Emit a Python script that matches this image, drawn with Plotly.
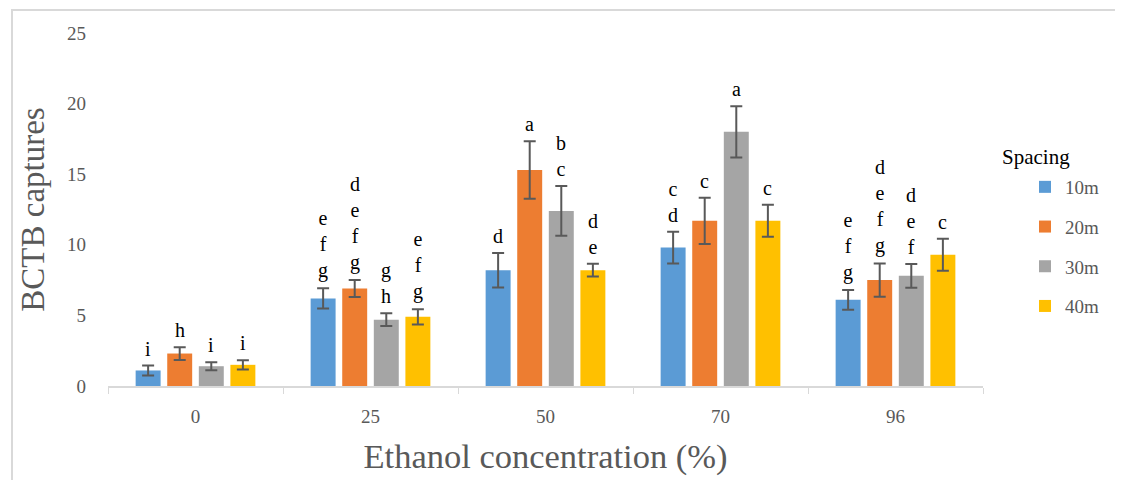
import plotly.graph_objects as go

categories = ["0", "25", "50", "70", "96"]
series_names = ["10m", "20m", "30m", "40m"]
colors = ["#5B9BD5", "#ED7D31", "#A5A5A5", "#FFC000"]

vals_10m = [1.1, 6.2, 8.2, 9.8, 6.1]
vals_20m = [2.3, 6.9, 15.3, 11.7, 7.5]
vals_30m = [1.4, 4.7, 12.4, 18.0, 7.8]
vals_40m = [1.5, 4.9, 8.2, 11.7, 9.3]

err_10m = [0.35, 0.72, 1.22, 1.12, 0.70]
err_20m = [0.45, 0.60, 2.04, 1.64, 1.18]
err_30m = [0.28, 0.45, 1.76, 1.82, 0.84]
err_40m = [0.33, 0.54, 0.45, 1.13, 1.13]

lab_10m = ["i", "e<br>f<br>g", "d", "c<br>d", "e<br>f<br>g"]
lab_20m = ["h", "d<br>e<br>f<br>g", "a", "c", "d<br>e<br>f<br>g"]
lab_30m = ["i", "g<br>h", "b<br>c", "a", "d<br>e<br>f"]
lab_40m = ["i", "e<br>f<br>g", "d<br>e", "c", "c"]

values = [vals_10m, vals_20m, vals_30m, vals_40m]
errors = [err_10m, err_20m, err_30m, err_40m]
labels = [lab_10m, lab_20m, lab_30m, lab_40m]

FONT = "Liberation Serif"
GRAY = "#595959"

W, H = 1123, 480
OFF = 8  # page body margin
ML, MR, MT, MB = 100, 148, 25, 102
plot_w = W - ML - MR
plot_h = H - MT - MB
BARGAP = 0.278
BARGROUPGAP = 0.21
cat_px = plot_w / len(categories)
pitch = (1 - BARGAP) * cat_px / len(series_names)


def px(xs):
    return (xs - OFF - ML) / plot_w


def py(ys):
    return (H - MB - (ys - OFF)) / plot_h


fig = go.Figure()
for i, name in enumerate(series_names):
    fig.add_trace(go.Bar(
        name=name, x=categories, y=values[i],
        marker=dict(color=colors[i], line=dict(width=0)),
        error_y=dict(type="data", array=errors[i], color=GRAY, thickness=2, width=6),
        legendgroup=name,
    ))

annotations = []
for i, name in enumerate(series_names):
    shift = (i - (len(series_names) - 1) / 2) * pitch
    for j, c in enumerate(categories):
        annotations.append(dict(
            x=j, y=values[i][j] + errors[i][j], xref="x", yref="y",
            text=labels[i][j], showarrow=False, xshift=shift, yshift=4,
            yanchor="bottom", xanchor="center", align="center",
            font=dict(family=FONT, size=20, color="#000000"),
        ))

annotations.append(dict(
    x=px(1000), y=py(157), xref="paper", yref="paper",
    text="Spacing", showarrow=False, xanchor="left", yanchor="middle",
    font=dict(family=FONT, size=21, color="#000000"),
))

fig.update_layout(
    width=W, height=H,
    margin=dict(l=ML, r=MR, t=MT, b=MB),
    paper_bgcolor="white", plot_bgcolor="white",
    barmode="group", bargap=BARGAP, bargroupgap=BARGROUPGAP,
    font=dict(family=FONT, color=GRAY),
    annotations=annotations,
    legend=dict(
        x=px(1025), xanchor="left",
        y=py(168), yanchor="top",
        font=dict(family=FONT, size=19, color=GRAY),
        tracegroupgap=12, bgcolor="rgba(0,0,0,0)",
    ),
    shapes=[dict(
        type="path", xref="paper", yref="paper",
        path=(f"M{px(12)},{py(500)} L{px(12)},{py(10)} "
              f"L{px(1122)},{py(10)} L{px(1122)},{py(500)}"),
        line=dict(color="#D9D9D9", width=2), layer="below",
    )],
)

fig.update_xaxes(
    type="category", range=[-0.5, len(categories) - 0.5],
    showline=True, linecolor="#D9D9D9", linewidth=1.5,
    ticks="outside", tickson="boundaries", ticklen=6, tickcolor="#D9D9D9",
    showgrid=False, tickfont=dict(family=FONT, size=19, color=GRAY),
    ticklabelstandoff=12,
    title=dict(text="Ethanol concentration (%)", font=dict(family=FONT, size=34.5, color=GRAY), standoff=18),
)
fig.update_yaxes(
    range=[0, 25], dtick=5, showgrid=False, showline=False, zeroline=False,
    tickfont=dict(family=FONT, size=19, color=GRAY), ticklabelstandoff=21,
    title=dict(text="BCTB captures", font=dict(family=FONT, size=33, color=GRAY), standoff=12),
)

fig.write_html("out.html")
